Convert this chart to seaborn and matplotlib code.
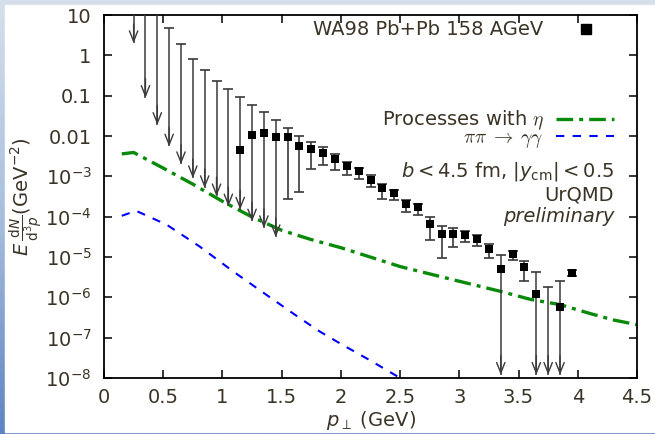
import numpy as np
import pandas as pd
import matplotlib
matplotlib.use("Agg")
import matplotlib.pyplot as plt
import seaborn as sns
from matplotlib.lines import Line2D
from matplotlib.patches import Rectangle
from matplotlib.colors import LinearSegmentedColormap
from matplotlib.ticker import FixedLocator, FixedFormatter, NullFormatter

nan = np.nan

# WA98 Pb+Pb 158 AGeV direct photon points
pt = [0.25, 0.35, 0.45, 0.55, 0.65, 0.75, 0.85, 0.95, 1.05, 1.15, 1.25, 1.35, 1.45,
      1.55, 1.65, 1.75, 1.85, 1.95, 2.05, 2.15, 2.25, 2.35, 2.45, 2.55, 2.65, 2.75,
      2.85, 2.95, 3.05, 3.15, 3.25, 3.35, 3.45, 3.55, 3.65, 3.75, 3.85, 3.95]
yld = [nan, nan, nan, nan, nan, nan, nan, nan, nan, 0.0045, 0.0106, 0.0122, 0.0095,
       0.0093, 0.0058, 0.0048, 0.0038, 0.0027, 0.00185, 0.00137, 8.2e-4, 5.0e-4, 3.8e-4,
       2.1e-4, 1.73e-4, 6.7e-5, 3.8e-5, 3.7e-5, 3.6e-5, 2.8e-5, 1.57e-5, 5.0e-6, 1.2e-5,
       5.5e-6, 1.23e-6, nan, 5.7e-7, 4.1e-6]
err_hi = [25, 18, 11, 4.7, 1.9, 0.80, 0.43, 0.236, 0.15, 0.093, 0.060, 0.040, 0.0255,
          0.016, 0.010, 0.0073, 0.0054, 0.0035, 0.0023, 0.00162, 1.05e-3, 6.5e-4, 4.6e-4,
          2.6e-4, 2.1e-4, 1.0e-4, 6.0e-5, 5.1e-5, 4.5e-5, 3.5e-5, 2.16e-5, 1.13e-5, 1.43e-5,
          7.9e-6, 4.2e-6, 1.8e-6, 2.5e-6, 4.8e-6]
err_lo = [2.0, 0.088, 0.0188, 0.0055, 0.0020, 9.0e-4, 5.1e-4, 3.2e-4, 1.8e-4, 1.5e-4,
          7.6e-5, 5.2e-5, 3.1e-5, 2.7e-4, 4.1e-4, 0.0015, 0.0019, 0.00145, 0.00107, 8.8e-4,
          5.3e-4, 2.8e-4, 2.6e-4, 1.27e-4, 1.13e-4, 2.7e-5, 9.4e-6, 1.8e-5, 2.4e-5, 1.9e-5,
          9.2e-6, 1.2e-8, 8.5e-6, 2.6e-6, 1.2e-8, 1.2e-8, 1.2e-8, 3.4e-6]
is_limit = [True] * 13 + [False] * 18 + [True, False, False, True, True, True, False]

# UrQMD curves
eta_pt = [0.15, 0.25, 0.5, 0.75, 1.0, 1.25, 1.5, 1.75, 2.0, 2.5, 3.0, 3.35, 3.6, 3.85, 4.1, 4.3, 4.5]
eta_y = [3.6e-3, 3.9e-3, 1.6e-3, 6.4e-4, 2.4e-4, 9.8e-5, 4.6e-5, 2.7e-5, 1.7e-5, 5.8e-6,
         2.5e-6, 1.4e-6, 8.9e-7, 6.6e-7, 4.0e-7, 2.75e-7, 2.1e-7]
pipi_pt = [0.15, 0.27, 0.53, 0.81, 1.09, 1.37, 1.65, 1.82, 2.0, 2.25, 2.5, 2.6]
pipi_y = [1.05e-4, 1.4e-4, 6.3e-5, 1.8e-5, 4.4e-6, 1.16e-6, 3.1e-7, 1.43e-7, 7e-8, 2.7e-8,
          1.0e-8, 7e-9]

xticks = [0, 0.5, 1, 1.5, 2, 2.5, 3, 3.5, 4, 4.5]
xtick_labels = ["0", "0.5", "1", "1.5", "2", "2.5", "3", "3.5", "4", "4.5"]
yticks = [1e-8, 1e-7, 1e-6, 1e-5, 1e-4, 1e-3, 1e-2, 1e-1, 1, 10]
ytick_labels = [r"$10^{-8}$", r"$10^{-7}$", r"$10^{-6}$", r"$10^{-5}$", r"$10^{-4}$",
                r"$10^{-3}$", "0.01", "0.1", "1", "10"]

df = pd.DataFrame({"pt": pt, "y": yld, "hi": err_hi, "lo": err_lo, "lim": is_limit})

sns.set_style("ticks")
txt = "#3b3426"
plt.rcParams["font.family"] = ["DejaVu Sans"]
plt.rcParams["mathtext.fontset"] = "dejavusans"
plt.rcParams["font.size"] = 14
plt.rcParams["text.color"] = txt
plt.rcParams["axes.labelcolor"] = txt
plt.rcParams["xtick.color"] = "black"
plt.rcParams["ytick.color"] = "black"
plt.rcParams["xtick.labelcolor"] = txt
plt.rcParams["ytick.labelcolor"] = txt

fig = plt.figure(figsize=(6.55, 4.34), dpi=100)

# slide frame behind the plot
bg = fig.add_axes([0, 0, 1, 1], zorder=-10)
bg.axis("off")
cmap = LinearSegmentedColormap.from_list("frame", ["#d6e0ec", "#a8bedd", "#5f84c2"])
bg.imshow(np.linspace(0, 1, 256)[:, None], aspect="auto", cmap=cmap, extent=[0, 1, 0, 1])
bg.add_patch(Rectangle((5 / 655, 2.5 / 434), 1, 1 - 7.5 / 434, color="white"))
bg.set_xlim(0, 1)
bg.set_ylim(0, 1)

ax = fig.add_axes([104 / 655, 1 - 378 / 434, 533 / 655, 363 / 434])
ax.set_facecolor("none")
ax.set_yscale("log")
ax.set_xlim(0, 4.5)
ax.set_ylim(1e-8, 10)

ec = "#3a3a3a"
lim = df[df["lim"]]
reg = df[~df["lim"]]

# upper-limit style points: line from cap down to an open arrow head
ax.vlines(lim["pt"], lim["lo"], lim["hi"], color=ec, lw=1.1, zorder=3)
ax.plot(lim["pt"], lim["hi"], ls="none", marker="_", ms=7, mew=1.2, color=ec, zorder=3)
for _, r in lim.iterrows():
    ax.annotate("", xy=(r["pt"], r["lo"]), xytext=(r["pt"], r["lo"] * 3),
                arrowprops=dict(arrowstyle="->,head_length=0.75,head_width=0.3",
                                color=ec, lw=1.0, shrinkA=0, shrinkB=0, mutation_scale=10),
                zorder=3)

ax.errorbar(reg["pt"], reg["y"], yerr=[reg["y"] - reg["lo"], reg["hi"] - reg["y"]],
            fmt="none", ecolor=ec, elinewidth=1.2, capsize=3.5, capthick=1.2, zorder=3)

sns.scatterplot(data=df.dropna(subset=["y"]), x="pt", y="y", marker="s", color="black",
                edgecolor="black", s=40, linewidth=0, ax=ax, zorder=4)

green = "#0a8a0a"
blue = "#0000ff"
eta_ls = (0, (5, 1.8, 1.2, 1.8))
pipi_ls = (0, (4, 4))
sns.lineplot(x=eta_pt, y=eta_y, color=green, lw=2.4, ax=ax, linestyle=eta_ls, zorder=2)
sns.lineplot(x=pipi_pt, y=pipi_y, color=blue, lw=1.5, ax=ax, linestyle=pipi_ls, zorder=2)

ax.set_xlim(0, 4.5)
ax.set_ylim(1e-8, 10)
ax.xaxis.set_major_locator(FixedLocator(xticks))
ax.xaxis.set_major_formatter(FixedFormatter(xtick_labels))
ax.yaxis.set_major_locator(FixedLocator(yticks))
ax.yaxis.set_major_formatter(FixedFormatter(ytick_labels))
ax.yaxis.set_minor_locator(matplotlib.ticker.LogLocator(base=10, subs=(2, 5)))
ax.yaxis.set_minor_formatter(NullFormatter())
ax.xaxis.set_minor_locator(matplotlib.ticker.NullLocator())
ax.tick_params(which="both", direction="in", top=True, right=True, width=1.1)
ax.tick_params(which="major", length=6)
ax.tick_params(which="minor", length=3)
ax.tick_params(axis="y", pad=9)
ax.tick_params(axis="x", pad=7)
for s in ax.spines.values():
    s.set_linewidth(1.3)
    s.set_color("black")

ax.set_xlabel(r"$p_\perp$ (GeV)", labelpad=2)
ax.set_ylabel(r"$E\,\frac{\mathrm{d}N}{\mathrm{d}^3p}$(GeV$^{-2}$)", labelpad=0)

# legends: one entry per legend so the labels end flush right like the original
leg_kw = dict(loc="upper right", markerfirst=False, frameon=False,
              borderaxespad=0, borderpad=0)
leg1 = ax.legend(handles=[Line2D([], [], marker="s", ls="none", color="black", ms=6.5)],
                 labels=["WA98 Pb+Pb 158 AGeV"], bbox_to_anchor=(0.94, 0.985),
                 handlelength=2, handletextpad=1.2, **leg_kw)
ax.add_artist(leg1)
leg2 = ax.legend(handles=[Line2D([], [], color=green, lw=2.4, linestyle=eta_ls)],
                 labels=[r"Processes with $\eta$"], bbox_to_anchor=(0.957, 0.742),
                 handlelength=3.0, handletextpad=0.6, **leg_kw)
ax.add_artist(leg2)
leg3 = ax.legend(handles=[Line2D([], [], color=blue, lw=1.5, linestyle=pipi_ls)],
                 labels=[r"$\pi\pi\;\rightarrow\;\gamma\gamma$"], bbox_to_anchor=(0.957, 0.69),
                 handlelength=3.0, handletextpad=0.6, **leg_kw)
for lg in (leg2, leg3):
    for t in lg.get_texts():
        t.set_math_fontfamily("cm")

ax.text(0.957, 0.5675, r"$b<4.5$ fm, $|y_{\mathrm{cm}}|<0.5$", ha="right", va="center",
        transform=ax.transAxes)
ax.text(0.957, 0.504, "UrQMD", ha="right", va="center", transform=ax.transAxes)
ax.text(0.957, 0.444, "preliminary", ha="right", va="center", style="italic",
        transform=ax.transAxes)

fig.savefig("out.png", dpi=100)
